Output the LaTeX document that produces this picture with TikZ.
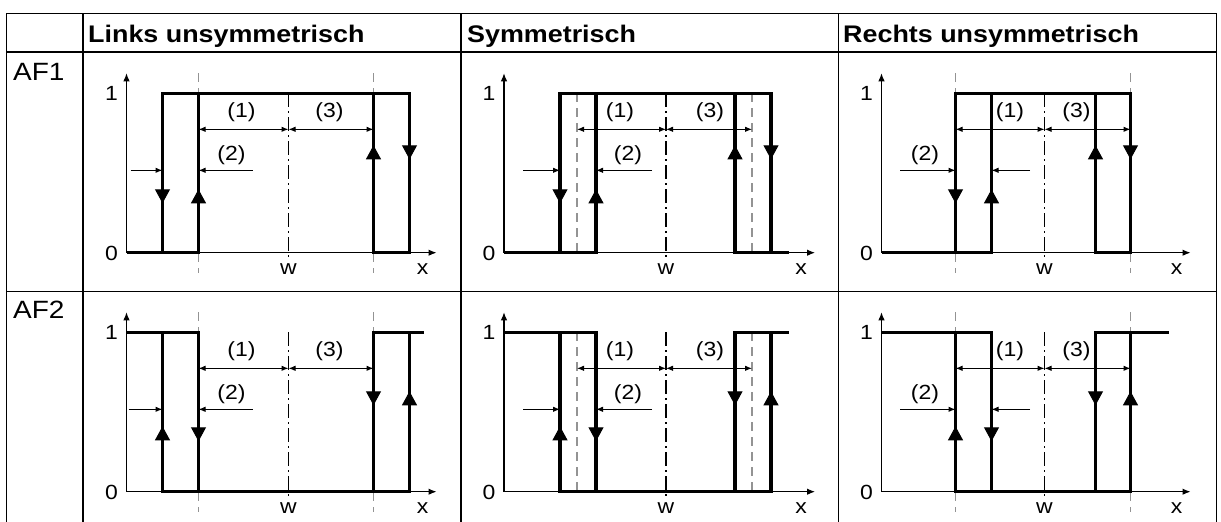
\documentclass[tikz,border=0pt]{standalone}
\usepackage{fontspec}
\setmainfont{Liberation Sans}[FakeStretch=1.12]
\usetikzlibrary{arrows.meta}

\begin{document}
\begin{tikzpicture}[x=1pt, y=-1pt,
  grid/.style={line width=1.5pt},
  sig/.style={line width=3.1pt},
  axis/.style={line width=1.1pt, -{Latex[length=8pt,width=6.5pt]}},
  dim/.style={line width=1pt, {Latex[length=7pt,width=5.5pt]}-{Latex[length=7pt,width=5.5pt]}},
  ptr/.style={line width=1pt, -{Latex[length=7pt,width=5.5pt]}},
  guide/.style={gray!85, line width=1.2pt, dash pattern=on 9pt off 6pt},
  midline/.style={line width=1.2pt, dash pattern=on 14pt off 4pt on 2pt off 4pt},
  tri/.style={line width=1pt, -{Triangle[length=14pt,width=15pt]}},
  lbl/.style={font=\fontsize{20.5}{24}\selectfont, inner sep=0pt},
  head/.style={font=\fontsize{24}{28}\selectfont\bfseries, anchor=base west, inner sep=0pt},
  rowlbl/.style={font=\fontsize{25}{29}\selectfont, anchor=base west, inner sep=0pt}]
\useasboundingbox (0,0) rectangle (1221,522);
% table
\draw[grid] (6.7,13.3) -- (1216.7,13.3);
\draw[grid] (6.7,52) -- (1216.7,52);
\draw[grid] (6.7,291.7) -- (1216.7,291.7);
\draw[grid] (6.7,13.3) -- (6.7,522);
\draw[grid] (83,13.3) -- (83,522);
\draw[grid] (461,13.3) -- (461,522);
\draw[grid] (838.3,13.3) -- (838.3,522);
\draw[grid] (1216.7,13.3) -- (1216.7,522);
\node[head] (hleft) at (88,42) {Links unsymmetrisch};
\node[head] (hsym) at (467,42) {Symmetrisch};
\node[head] (hright) at (843,42) {Rechts unsymmetrisch};
\node[rowlbl] (af1) at (13,80) {AF1};
\node[rowlbl] (af2) at (13,318) {AF2};

% AF1, left asymmetric
\begin{scope}[shift={(126.5,93.3)}]
\draw[guide] (72,-20) -- (72,180);
\draw[guide] (247,-20) -- (247,180);
\draw[midline] (162,0) -- (162,167);
\draw[axis] (0,159.4) -- (0,-20);
\draw[axis] (0,159.4) -- (310,159.4);
\draw[sig] (0,159.4) -- (72,159.4) -- (72,0);
\draw[sig] (36,159.4) -- (36,0) -- (283,0) -- (283,159.4) -- (247,159.4) -- (247,0);
\draw[tri] (36,80) -- (36,110);
\draw[tri] (72,125) -- (72,96);
\draw[tri] (247,80) -- (247,52);
\draw[tri] (283,40) -- (283,66);
\draw[dim] (72,36) -- (162,36);
\draw[dim] (162,36) -- (247,36);
\draw[ptr] (4,77) -- (36,77);
\draw[ptr] (126,77) -- (72,77);
\node[lbl] (l1one) at (-15,0) {1};
\node[lbl] (l1zero) at (-15,160) {0};
\node[lbl] (l1w) at (162,176) {w};
\node[lbl] (l1x) at (296,176) {x};
\node[lbl] (l1d1) at (115,19) {(1)};
\node[lbl] (l1d3) at (203,19) {(3)};
\node[lbl] (l1d2) at (105,62) {(2)};
\end{scope}

% AF1, symmetric
\begin{scope}[shift={(504,93.3)}]
\draw[guide] (73,0) -- (73,159.4);
\draw[guide] (248,0) -- (248,159.4);
\draw[midline] (162,0) -- (162,167);
\draw[axis] (0,159.4) -- (0,-20);
\draw[axis] (0,159.4) -- (311,159.4);
\draw[sig] (0,159.4) -- (92,159.4) -- (92,0);
\draw[sig] (56,159.4) -- (56,0) -- (267,0) -- (267,159.4);
\draw[sig] (285,159.4) -- (231,159.4) -- (231,0);
\draw[tri] (56,80) -- (56,110);
\draw[tri] (92,125) -- (92,96);
\draw[tri] (231,80) -- (231,52);
\draw[tri] (267,40) -- (267,66);
\draw[dim] (73,36) -- (162,36);
\draw[dim] (162,36) -- (248,36);
\draw[ptr] (19,77) -- (56,77);
\draw[ptr] (148,77) -- (92,77);
\node[lbl] (s1one) at (-15,0) {1};
\node[lbl] (s1zero) at (-15,160) {0};
\node[lbl] (s1w) at (162,176) {w};
\node[lbl] (s1x) at (297,176) {x};
\node[lbl] (s1d1) at (116,19) {(1)};
\node[lbl] (s1d3) at (206,19) {(3)};
\node[lbl] (s1d2) at (124,62) {(2)};
\end{scope}

% AF1, right asymmetric
\begin{scope}[shift={(881.5,93.3)}]
\draw[guide] (74,-20) -- (74,180);
\draw[guide] (249,-20) -- (249,180);
\draw[midline] (163,0) -- (163,167);
\draw[axis] (0,159.4) -- (0,-20);
\draw[axis] (0,159.4) -- (309,159.4);
\draw[sig] (0,159.4) -- (110,159.4) -- (110,0);
\draw[sig] (74,159.4) -- (74,0) -- (249,0) -- (249,159.4) -- (214,159.4) -- (214,0);
\draw[tri] (74,80) -- (74,110);
\draw[tri] (110,125) -- (110,96);
\draw[tri] (214,80) -- (214,52);
\draw[tri] (249,40) -- (249,66);
\draw[dim] (74,36) -- (163,36);
\draw[dim] (163,36) -- (249,36);
\draw[ptr] (18.5,77) -- (74,77);
\draw[ptr] (148.5,77) -- (110,77);
\node[lbl] (r1one) at (-15,0) {1};
\node[lbl] (r1zero) at (-15,160) {0};
\node[lbl] (r1w) at (163,176) {w};
\node[lbl] (r1x) at (295,176) {x};
\node[lbl] (r1d1) at (128.5,19) {(1)};
\node[lbl] (r1d3) at (195,19) {(3)};
\node[lbl] (r1d2) at (43.5,62) {(2)};
\end{scope}

% AF2, left asymmetric
\begin{scope}[shift={(126.5,332.3)}]
\draw[guide] (72,-20) -- (72,180);
\draw[guide] (247,-20) -- (247,180);
\draw[midline] (162,0) -- (162,167);
\draw[axis] (0,159.4) -- (0,-20);
\draw[axis] (0,159.4) -- (310,159.4);
\draw[sig] (0,0) -- (72,0) -- (72,159.4);
\draw[sig] (36,0) -- (36,159.4) -- (283,159.4) -- (283,0);
\draw[sig] (247,159.4) -- (247,0) -- (297,0);
\draw[tri] (36,125) -- (36,94);
\draw[tri] (72,80) -- (72,109);
\draw[tri] (247,40) -- (247,73);
\draw[tri] (283,90) -- (283,59);
\draw[dim] (72,36) -- (162,36);
\draw[dim] (162,36) -- (247,36);
\draw[ptr] (2,77) -- (36,77);
\draw[ptr] (126,77) -- (72,77);
\node[lbl] (l2one) at (-15,0) {1};
\node[lbl] (l2zero) at (-15,160) {0};
\node[lbl] (l2w) at (162,176) {w};
\node[lbl] (l2x) at (296,176) {x};
\node[lbl] (l2d1) at (115,19) {(1)};
\node[lbl] (l2d3) at (203,19) {(3)};
\node[lbl] (l2d2) at (105,62) {(2)};
\end{scope}

% AF2, symmetric
\begin{scope}[shift={(504,332.3)}]
\draw[guide] (73,0) -- (73,159.4);
\draw[guide] (248,0) -- (248,159.4);
\draw[midline] (162,0) -- (162,167);
\draw[axis] (0,159.4) -- (0,-20);
\draw[axis] (0,159.4) -- (311,159.4);
\draw[sig] (0,0) -- (92,0) -- (92,159.4);
\draw[sig] (56,0) -- (56,159.4) -- (267,159.4) -- (267,0);
\draw[sig] (231,159.4) -- (231,0) -- (285,0);
\draw[tri] (56,125) -- (56,94);
\draw[tri] (92,80) -- (92,109);
\draw[tri] (231,40) -- (231,73);
\draw[tri] (267,90) -- (267,59);
\draw[dim] (73,36) -- (162,36);
\draw[dim] (162,36) -- (248,36);
\draw[ptr] (19,77) -- (56,77);
\draw[ptr] (148,77) -- (92,77);
\node[lbl] (s2one) at (-15,0) {1};
\node[lbl] (s2zero) at (-15,160) {0};
\node[lbl] (s2w) at (162,176) {w};
\node[lbl] (s2x) at (297,176) {x};
\node[lbl] (s2d1) at (116,19) {(1)};
\node[lbl] (s2d3) at (206,19) {(3)};
\node[lbl] (s2d2) at (124,62) {(2)};
\end{scope}

% AF2, right asymmetric
\begin{scope}[shift={(881.5,332.3)}]
\draw[guide] (74,-20) -- (74,180);
\draw[guide] (249,-20) -- (249,180);
\draw[midline] (163,0) -- (163,167);
\draw[axis] (0,159.4) -- (0,-20);
\draw[axis] (0,159.4) -- (309,159.4);
\draw[sig] (0,0) -- (110,0) -- (110,159.4);
\draw[sig] (74,0) -- (74,159.4) -- (249,159.4) -- (249,0);
\draw[sig] (214,159.4) -- (214,0) -- (287,0);
\draw[tri] (74,125) -- (74,94);
\draw[tri] (110,80) -- (110,109);
\draw[tri] (214,40) -- (214,73);
\draw[tri] (249,90) -- (249,59);
\draw[dim] (74,36) -- (163,36);
\draw[dim] (163,36) -- (249,36);
\draw[ptr] (18.5,77) -- (74,77);
\draw[ptr] (148.5,77) -- (110,77);
\node[lbl] (r2one) at (-15,0) {1};
\node[lbl] (r2zero) at (-15,160) {0};
\node[lbl] (r2w) at (163,176) {w};
\node[lbl] (r2x) at (295,176) {x};
\node[lbl] (r2d1) at (128.5,19) {(1)};
\node[lbl] (r2d3) at (195,19) {(3)};
\node[lbl] (r2d2) at (43.5,62) {(2)};
\end{scope}
\end{tikzpicture}
\end{document}
